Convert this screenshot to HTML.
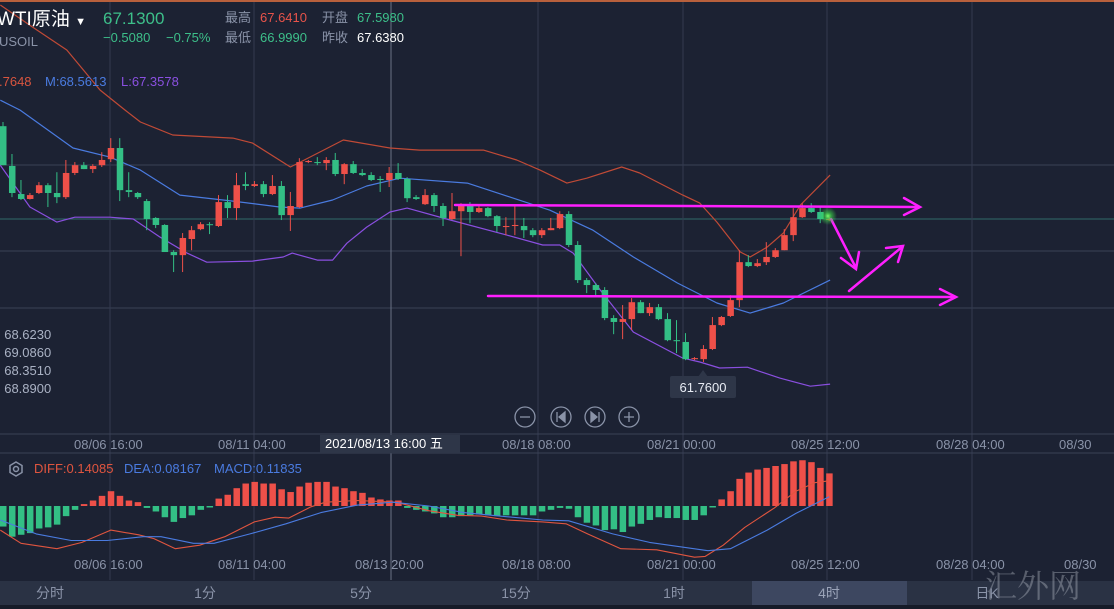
<!DOCTYPE html>
<html><head><meta charset="utf-8">
<style>
html,body{margin:0;padding:0;background:#1c2233;}
#wrap{position:relative;width:1114px;height:609px;overflow:hidden;background:#1c2233;font-family:"Liberation Sans","Noto Sans CJK SC",sans-serif;}
.t{position:absolute;white-space:nowrap;font-size:13px;line-height:16px;}
.tab{position:absolute;top:585px;font-size:14px;color:#8a93a8;line-height:16px;transform:translateX(-50%);}
</style></head><body>
<div id="wrap">
<svg id="svg" width="1114" height="609" style="position:absolute;left:0;top:0">
  <defs>
    <radialGradient id="glow"><stop offset="0" stop-color="#7dff6a" stop-opacity="1"/><stop offset="0.4" stop-color="#3ddc4a" stop-opacity="0.6"/><stop offset="1" stop-color="#3ddc4a" stop-opacity="0"/></radialGradient>
  </defs>
  <rect x="0" y="0" width="1114" height="2" fill="#b8603c"/>
  <g id="grid"></g>
  <g id="bands"></g>
  <g id="candles"></g>
  <g id="macd"></g>
  <g stroke="#ff1fff" stroke-width="2.5" fill="none" stroke-linecap="round">
    <line x1="455" y1="205" x2="918" y2="207"/>
    <polyline points="904,198 920,207 904,215"/>
    <line x1="488" y1="296" x2="955" y2="297"/>
    <polyline points="940,289 956,297 940,305"/>
    <line x1="831" y1="219" x2="856" y2="268"/>
    <polyline points="841,258 856,269 859,252"/>
    <line x1="849" y1="291" x2="902" y2="247"/>
    <polyline points="886,248 903,246 898,262"/>
  </g>
  <circle cx="828" cy="216" r="9" fill="url(#glow)"/>
  <g>
    <polygon points="698,377 703,370 708,377" fill="#2e3648"/>
    <rect x="670" y="376" width="66" height="22" rx="2" fill="#2e3648"/>
    <text x="703" y="392" fill="#e8ecf4" font-size="13" text-anchor="middle" font-family="Liberation Sans, sans-serif">61.7600</text>
  </g>
  <g stroke="#8a93a8" fill="none" stroke-width="1.3">
    <circle cx="525" cy="417" r="10"/><line x1="520" y1="417" x2="530" y2="417"/>
    <circle cx="561" cy="417" r="10"/><line x1="557" y1="412" x2="557" y2="422"/><polygon points="565,412 559,417 565,422" fill="#8a93a8"/>
    <circle cx="595" cy="417" r="10"/><line x1="599" y1="412" x2="599" y2="422"/><polygon points="591,412 597,417 591,422" fill="#8a93a8"/>
    <circle cx="629" cy="417" r="10"/><line x1="624" y1="417" x2="634" y2="417"/><line x1="629" y1="412" x2="629" y2="422"/>
  </g>
  <line x1="0" y1="434" x2="1114" y2="434" stroke="#3a4256"/>
  <line x1="0" y1="453" x2="1114" y2="453" stroke="#3a4256"/>
  <rect x="0" y="581" width="1114" height="24" fill="#2a3244"/>
  <rect x="752" y="581" width="155" height="24" fill="#3d4760"/>
  <rect x="0" y="605" width="1114" height="4" fill="#161b28"/>
  <rect x="320" y="435" width="140" height="18" fill="#2e3648"/>
  <g stroke="#8a93a8" fill="none" stroke-width="1.5">
    <polygon points="16,462 22,465.5 22,472.5 16,476 10,472.5 10,465.5"/><circle cx="16" cy="469" r="2.5"/>
  </g>
</svg>

<div class="t" style="left:-3px;top:9px;font-size:19px;line-height:22px;color:#ffffff">WTI原油 <span style="font-size:11px">▼</span></div>
<div class="t" style="left:-1px;top:34px;color:#8a93a8">USOIL</div>
<div class="t" style="left:103px;top:9px;font-size:17px;line-height:20px;color:#3dbf8a">67.1300</div>
<div class="t" style="left:103px;top:30px;color:#3dbf8a">−0.5080</div>
<div class="t" style="left:166px;top:30px;color:#3dbf8a">−0.75%</div>
<div class="t" style="left:225px;top:10px;color:#8a93a8">最高</div>
<div class="t" style="left:260px;top:10px;color:#e8534a">67.6410</div>
<div class="t" style="left:322px;top:10px;color:#8a93a8">开盘</div>
<div class="t" style="left:357px;top:10px;color:#3dbf8a">67.5980</div>
<div class="t" style="left:225px;top:30px;color:#8a93a8">最低</div>
<div class="t" style="left:260px;top:30px;color:#3dbf8a">66.9990</div>
<div class="t" style="left:322px;top:30px;color:#8a93a8">昨收</div>
<div class="t" style="left:357px;top:30px;color:#ffffff">67.6380</div>
<div class="t" style="left:-1px;top:74px;color:#d8553f">.7648</div>
<div class="t" style="left:45px;top:74px;color:#4a7be0">M:68.5613</div>
<div class="t" style="left:121px;top:74px;color:#8a50e0">L:67.3578</div>
<div class="t" style="left:-3px;top:327px;color:#aab2c4">; 68.6230</div>
<div class="t" style="left:-3px;top:345px;color:#aab2c4">; 69.0860</div>
<div class="t" style="left:-3px;top:363px;color:#aab2c4">; 68.3510</div>
<div class="t" style="left:-3px;top:381px;color:#aab2c4">; 68.8900</div>
<div class="t" style="left:34px;top:461px;color:#e0553f">DIFF:0.14085</div>
<div class="t" style="left:124px;top:461px;color:#4a7be0">DEA:0.08167</div>
<div class="t" style="left:214px;top:461px;color:#4a7be0">MACD:0.11835</div>
<div class="t" style="left:325px;top:436px;color:#ffffff">2021/08/13 16:00 五</div>
<div class="t" style="left:985px;top:566px;font-size:32px;line-height:36px;color:rgba(200,205,215,0.35);font-family:'Noto Serif CJK SC',serif">汇外网</div>
<div id="xlabels"></div>
<div class="tab" style="left:50px">分时</div>
<div class="tab" style="left:205px">1分</div>
<div class="tab" style="left:361px">5分</div>
<div class="tab" style="left:516px">15分</div>
<div class="tab" style="left:674px">1时</div>
<div class="tab" style="left:829px;color:#9aa3b8">4时</div>
<div class="tab" style="left:987px">日K</div>
</div>
<script>
const candleOpen=[70.70,69.17,68.09,67.90,68.13,68.43,68.13,67.97,68.90,69.20,69.05,69.20,69.43,69.86,68.24,68.13,67.82,67.17,66.90,65.86,65.74,66.36,66.74,66.93,66.86,67.78,67.55,68.47,68.40,68.47,68.09,68.40,67.28,67.59,69.32,69.32,69.28,69.40,68.86,69.24,68.90,68.82,68.67,68.63,68.90,68.67,67.97,67.70,68.05,67.63,67.13,67.43,67.67,67.40,67.55,67.24,66.82,66.86,66.86,66.70,66.51,66.70,66.78,67.32,66.13,64.78,64.59,64.40,63.32,63.17,63.28,63.93,63.51,63.74,63.28,62.47,62.40,61.74,61.74,62.13,63.05,63.40,64.01,65.47,65.32,65.47,65.67,65.93,66.51,67.20,67.55,67.40,67.13];
const candleHigh=[70.86,69.63,68.63,68.13,68.55,68.51,68.93,69.40,69.32,69.32,69.24,69.70,70.24,70.24,68.93,68.17,67.90,67.20,66.93,65.93,66.59,66.86,67.01,67.01,68.05,68.05,68.90,68.93,68.59,68.59,68.82,68.59,68.17,69.47,69.40,69.51,69.51,69.67,69.28,69.36,69.05,68.93,68.78,69.13,69.28,68.74,68.05,68.28,68.13,67.74,68.13,67.74,67.78,67.63,67.59,67.28,67.20,67.67,67.17,66.78,66.78,67.17,67.43,67.43,66.28,64.86,64.67,64.51,63.43,63.82,64.09,64.01,63.90,63.86,63.51,63.24,62.74,61.82,62.28,63.36,63.40,64.20,65.93,65.74,65.59,66.24,66.01,66.74,67.55,67.74,67.74,67.59,67.20];
const candleLow=[69.20,67.97,67.86,67.88,68.09,67.59,67.74,67.90,68.82,69.05,68.90,69.13,69.32,67.82,67.97,67.90,66.70,66.78,65.86,65.09,65.09,65.93,66.70,66.55,66.82,67.17,67.09,68.24,68.36,67.97,68.05,67.09,66.67,67.55,69.28,69.20,69.01,68.78,68.47,68.86,68.78,68.59,68.17,68.36,68.63,67.78,67.86,67.67,67.40,66.86,67.09,65.70,66.97,67.36,67.20,66.63,66.51,66.51,66.40,66.43,66.40,66.70,66.74,66.05,64.67,64.28,64.17,63.24,62.70,62.51,62.86,63.51,63.40,63.24,62.43,61.97,61.70,61.70,61.63,62.09,63.01,63.36,63.74,65.28,65.28,65.36,65.63,65.93,66.28,67.17,67.36,66.97,67.05];
const candleClose=[69.20,68.13,67.90,68.05,68.43,68.13,67.97,68.90,69.20,69.05,69.17,69.40,69.86,68.24,68.17,67.97,67.13,66.90,65.86,65.74,66.40,66.70,66.93,66.90,67.78,67.55,68.43,68.40,68.47,68.09,68.40,67.28,67.63,69.32,69.36,69.28,69.40,68.86,69.24,68.90,68.82,68.63,68.63,68.90,68.67,67.93,67.90,68.05,67.63,67.17,67.43,67.70,67.40,67.55,67.24,66.86,66.86,66.90,66.70,66.51,66.70,66.78,67.32,66.13,64.78,64.59,64.40,63.32,63.17,63.28,63.93,63.51,63.74,63.28,62.47,62.43,61.74,61.78,62.13,63.05,63.36,64.01,65.47,65.32,65.43,65.67,65.93,66.51,67.20,67.55,67.40,67.13,67.13];

const upperIdx=[-0.3,3.3,7.1,10.8,13.6,15.3,18.9,25.6,27.8,32.0,33.1,37.9,43.1,46.4,53.5,57.2,59.8,62.8,65.0,68.9,70.9,75.7,77.6,79.5,82.1,83.2,85.1,86.9,88.8,92.1];
const upperVal=[75.36,74.51,73.63,72.09,71.32,70.86,70.36,70.24,70.05,69.13,69.32,70.17,69.86,69.78,69.78,69.40,69.01,68.51,68.70,69.13,68.90,68.05,67.74,67.01,65.86,65.67,66.05,66.59,67.67,68.82];
const midIdx=[-0.3,1.9,7.8,11.9,15.3,19.7,25.6,30.8,33.1,36.7,40.5,44.2,51.7,56.5,60.9,65.7,70.2,75.1,79.5,83.2,86.9,92.1];
const midVal=[71.70,71.32,69.86,69.51,69.01,68.05,67.82,67.59,67.55,67.86,68.40,68.70,68.51,67.97,67.47,66.70,65.67,64.67,63.90,63.51,63.90,64.78];
const lowerIdx=[-0.3,3.0,6.0,8.0,11.9,14.5,17.5,20.5,22.7,27.8,31.2,32.2,35.0,36.7,38.3,40.5,43.1,45.0,49.8,56.1,60.1,62.0,63.5,66.5,70.2,75.7,77.6,79.8,82.9,86.5,89.9,92.1];
const lowerVal=[69.20,67.59,67.01,67.20,67.20,67.13,66.43,65.82,65.47,65.51,65.67,65.82,65.55,65.55,66.20,66.82,67.40,67.55,67.09,66.51,66.13,66.13,65.82,64.40,62.78,61.78,61.63,61.40,61.43,61.01,60.70,60.78];

const macdHist=[-0.075,-0.112,-0.105,-0.099,-0.082,-0.078,-0.068,-0.037,-0.014,0.007,0.020,0.037,0.054,0.037,0.020,0.014,-0.007,-0.020,-0.041,-0.058,-0.044,-0.034,-0.014,-0.003,0.027,0.041,0.065,0.082,0.088,0.082,0.082,0.061,0.051,0.071,0.085,0.088,0.088,0.071,0.065,0.054,0.048,0.031,0.024,0.020,0.020,-0.007,-0.014,-0.020,-0.027,-0.041,-0.041,-0.037,-0.034,-0.031,-0.034,-0.037,-0.034,-0.034,-0.034,-0.034,-0.020,-0.014,-0.007,-0.010,-0.041,-0.061,-0.071,-0.088,-0.085,-0.095,-0.075,-0.065,-0.051,-0.041,-0.044,-0.044,-0.051,-0.051,-0.034,-0.005,0.024,0.054,0.099,0.122,0.133,0.139,0.146,0.153,0.163,0.167,0.160,0.139,0.119];
const diffIdx=[-0.3,2.0,6.0,8.8,12.0,15.1,16.8,19.2,21.9,24.7,28.0,30.3,31.8,34.3,35.9,39.4,43.8,47.4,50.6,53.3,56.1,60.1,62.7,65.1,68.8,72.8,77.0,78.2,80.2,82.6,85.9,88.3,90.4,92.0];
const diffVal=[-0.088,-0.136,-0.156,-0.133,-0.088,-0.105,-0.119,-0.156,-0.143,-0.112,-0.058,-0.041,-0.044,-0.003,0.014,0.020,0.014,-0.017,-0.034,-0.037,-0.051,-0.058,-0.065,-0.102,-0.156,-0.160,-0.187,-0.184,-0.143,-0.078,-0.007,0.054,0.085,0.092];
const deaIdx=[-0.3,3.7,7.6,11.6,15.6,17.6,21.2,23.5,27.5,31.5,35.4,39.4,43.4,47.4,51.3,55.3,60.1,63.0,67.9,72.0,78.5,81.0,85.1,88.3,92.0];
const deaVal=[-0.051,-0.102,-0.126,-0.126,-0.112,-0.112,-0.136,-0.136,-0.102,-0.065,-0.024,0.003,0.014,0.000,-0.024,-0.037,-0.051,-0.054,-0.102,-0.133,-0.163,-0.156,-0.088,-0.027,0.034];

const topTickLabels=["08/06 16:00","08/11 04:00","08/18 08:00","08/21 00:00","08/25 12:00","08/28 04:00","08/30"];
const topTickX=[110,254,538,683,827,972,1095];
const macdTickLabels=["08/06 16:00","08/11 04:00","08/13 20:00","08/18 08:00","08/21 00:00","08/25 12:00","08/28 04:00","08/30"];
const macdTickX=[110,254,391,538,683,827,972,1100];

const NS="http://www.w3.org/2000/svg";
const UP="#ee5049", DOWN="#33bf85";
function xOf(i){return 3+i*8.98;}
function yOf(p){return 219-(p-67.13)*26;}
function myOf(v){return 506-v*274;}
function mk(tag,attrs,parent){const e=document.createElementNS(NS,tag);for(const k in attrs)e.setAttribute(k,attrs[k]);parent.appendChild(e);return e;}

// grid
const grid=document.getElementById('grid');
[165,251,308].forEach(function(y){
  const l=mk('line',{x1:0,x2:1114,y1:y,y2:y,stroke:'#3a4256','stroke-width':1},grid);
  
  
});
const cur=mk('line',{x1:0,x2:1114,y1:219,y2:219,stroke:'#2f6a6a','stroke-width':1},grid);


[110,254,538,683,827,972].forEach(function(x){
  const l=mk('line',{x1:x,x2:x,y1:2,y2:580,stroke:'#333b4f','stroke-width':1},grid);
  
  
});
const ch=mk('line',{x1:391,x2:391,y1:2,y2:580,stroke:'#6a7286','stroke-width':1},grid);



// bands
const bands=document.getElementById('bands');
function drawLine(idx,val,fx,fy,color,name,parent,w){
  const n=Math.min(idx.length,val.length);let pts=[];
  for(let i=0;i<n;i++)pts.push(fx(idx[i]).toFixed(1)+','+fy(val[i]).toFixed(1));
  const p=mk('polyline',{points:pts.join(' '),fill:'none',stroke:color,'stroke-width':w||1.2,'stroke-linejoin':'round'},parent);
  
  
}
drawLine(upperIdx,upperVal,xOf,yOf,'#c04a36','bb-upper-line',bands);
drawLine(midIdx,midVal,xOf,yOf,'#4a7be0','bb-mid-line',bands);
drawLine(lowerIdx,lowerVal,xOf,yOf,'#8a4fe0','bb-lower-line',bands);

// candles
const cg=document.getElementById('candles');
const nC=Math.min(candleOpen.length,candleHigh.length,candleLow.length,candleClose.length);
for(let i=0;i<nC;i++){
  const o=candleOpen[i],h=candleHigh[i],l=candleLow[i],c=candleClose[i];
  const col=c>=o?UP:DOWN;const x=xOf(i);
  const g=mk('g',{},cg);
  
  
  mk('line',{x1:x,x2:x,y1:yOf(h),y2:yOf(l),stroke:col,'stroke-width':1},g);
  const top=yOf(Math.max(o,c)),bot=yOf(Math.min(o,c));
  mk('rect',{x:x-3,y:top,width:6.5,height:Math.max(1,bot-top),fill:col},g);
}

// MACD
const mg=document.getElementById('macd');
const nH=macdHist.length;
for(let i=0;i<nH;i++){
  const v=macdHist[i];const x=xOf(i);
  const y0=myOf(0),y1=myOf(v);
  const r=mk('rect',{x:x-3,y:Math.min(y0,y1),width:6.5,height:Math.max(1.5,Math.abs(y1-y0)),fill:v>=0?UP:DOWN},mg);
  
  
}
drawLine(diffIdx,diffVal,xOf,myOf,'#e0553f','diff-line',mg,1.1);
drawLine(deaIdx,deaVal,xOf,myOf,'#4a7be0','dea-line',mg,1.1);

// axis labels
const xl=document.getElementById('xlabels');
topTickLabels.forEach(function(t,i){
  const d=document.createElement('div');
  d.className='t';d.textContent=t;
  d.style.left=(topTickX[i]-36)+'px';d.style.top='437px';d.style.color='#8a93a8';
  
  
  xl.appendChild(d);
});
macdTickLabels.forEach(function(t,i){
  const d=document.createElement('div');
  d.className='t';d.textContent=t;
  d.style.left=(macdTickX[i]-36)+'px';d.style.top='557px';d.style.color='#8a93a8';
  
  
  xl.appendChild(d);
});
</script>
</body></html>
